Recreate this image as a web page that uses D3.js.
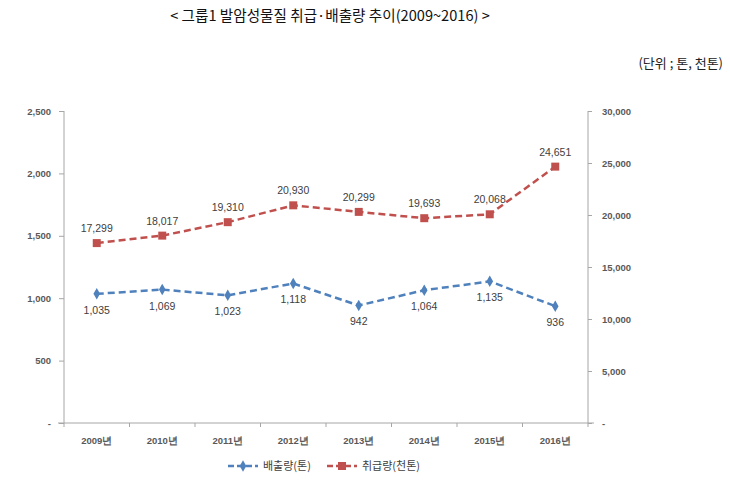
<!DOCTYPE html>
<html><head><meta charset="utf-8">
<script src="https://cdn.jsdelivr.net/npm/d3@7"></script>
<style>body{margin:0;background:#fff;font-family:"Noto Sans CJK KR","Noto Sans",sans-serif;}</style>
</head><body>
<svg id="c" width="730" height="489"></svg>
<script>
const years = ["2009년","2010년","2011년","2012년","2013년","2014년","2015년","2016년"];
const emission = [1035,1069,1023,1118,942,1064,1135,936];
const handling = [17299,18017,19310,20930,20299,19693,20068,24651];
const leftTicks = [0,500,1000,1500,2000,2500];
const rightTicks = [0,5000,10000,15000,20000,25000,30000];
const seriesNames = ["배출량(톤)","취급량(천톤)"];

const svg = d3.select("#c");
const L=64, R=588, T=111, B=423;
const x = d3.scaleBand().domain(years).range([L,R]);
const yL = d3.scaleLinear().domain([0,2500]).range([B,T]);
const yR = d3.scaleLinear().domain([0,30000]).range([B,T]);
const fmt = d3.format(",");
const blue="#4F81BD", red="#C0504D", axisC="#a6a6a6", txt="#404040";

svg.append("text").attr("x",330).attr("y",21).attr("text-anchor","middle")
  .attr("font-size",14.6).attr("fill","#111").text("< 그룹1 발암성물질 취급·배출량 추이(2009~2016) >");
svg.append("text").attr("x",723).attr("y",68).attr("text-anchor","end")
  .attr("font-size",13).attr("fill","#222").text("(단위 ; 톤, 천톤)");

const tickFont = g=>{g.selectAll("text").attr("font-size",9.5).attr("font-weight","bold").attr("fill","#595959").attr("font-family","'Liberation Sans',sans-serif");
  g.selectAll("line,path").attr("stroke",axisC);};

svg.append("g").attr("transform",`translate(${L},0)`)
  .call(d3.axisLeft(yL).tickValues(leftTicks).tickSize(5).tickPadding(8).tickFormat(d=>d===0?"-":fmt(d)))
  .call(g=>g.select(".domain").attr("d",`M0,${T}V${B}`)).call(tickFont);
svg.append("g").attr("transform",`translate(${R},0)`)
  .call(d3.axisRight(yR).tickValues(rightTicks).tickSize(4).tickPadding(10).tickFormat(d=>d===0?"-":fmt(d)))
  .call(g=>g.select(".domain").attr("d",`M0,${T}V${B}`)).call(tickFont);
const xa = svg.append("g").attr("transform",`translate(0,${B})`)
  .call(d3.axisBottom(x).tickSize(0).tickPadding(14)).call(tickFont);
xa.select(".domain").attr("d",`M${L-6},0H${R+6}`);
xa.selectAll(".bt").data(d3.range(years.length+1)).enter().append("line")
  .attr("x1",i=>L+i*x.bandwidth()).attr("x2",i=>L+i*x.bandwidth()).attr("y1",0).attr("y2",4).attr("stroke",axisC);

const cx = d=>x(d)+x.bandwidth()/2;
const lineL = d3.line().x((d,i)=>cx(years[i])).y(d=>yL(d));
const lineR = d3.line().x((d,i)=>cx(years[i])).y(d=>yR(d));
svg.append("path").attr("d",lineL(emission)).attr("fill","none").attr("stroke",blue).attr("stroke-width",2.5).attr("stroke-dasharray","7,4");
svg.append("path").attr("d",lineR(handling)).attr("fill","none").attr("stroke",red).attr("stroke-width",2.5).attr("stroke-dasharray","7,4");

const diamond = d3.symbol().type(d3.symbolDiamond).size(38);
const square = d3.symbol().type(d3.symbolSquare).size(64);
svg.selectAll(".pb").data(emission).enter().append("path")
  .attr("d",diamond).attr("transform",(d,i)=>`translate(${cx(years[i])},${yL(d)})`).attr("fill",blue);
svg.selectAll(".pr").data(handling).enter().append("path")
  .attr("d",square).attr("transform",(d,i)=>`translate(${cx(years[i])},${yR(d)})`).attr("fill",red);

svg.selectAll(".lb").data(emission).enter().append("text")
  .attr("x",(d,i)=>cx(years[i])).attr("y",d=>yL(d)+20).attr("text-anchor","middle")
  .attr("font-size",10.5).attr("fill",txt).attr("font-family","'Liberation Sans',sans-serif").text(d=>fmt(d));
svg.selectAll(".lr").data(handling).enter().append("text")
  .attr("x",(d,i)=>cx(years[i])).attr("y",d=>yR(d)-11).attr("text-anchor","middle")
  .attr("font-size",10.5).attr("fill",txt).attr("font-family","'Liberation Sans',sans-serif").text(d=>fmt(d));

// legend
const lg = svg.append("g");
[[blue,228,diamond],[red,327,square]].forEach(([c,lx,sym],i)=>{
  lg.append("line").attr("x1",lx).attr("x2",lx+30).attr("y1",466).attr("y2",466).attr("stroke",c).attr("stroke-width",2.5).attr("stroke-dasharray","6,3");
  lg.append("path").attr("d",sym).attr("transform",`translate(${lx+15},466)`).attr("fill",c);
  lg.append("text").attr("x",lx+35).attr("y",470).attr("font-size",11).attr("fill",txt).text(seriesNames[i]);
});
</script>
</body></html>
